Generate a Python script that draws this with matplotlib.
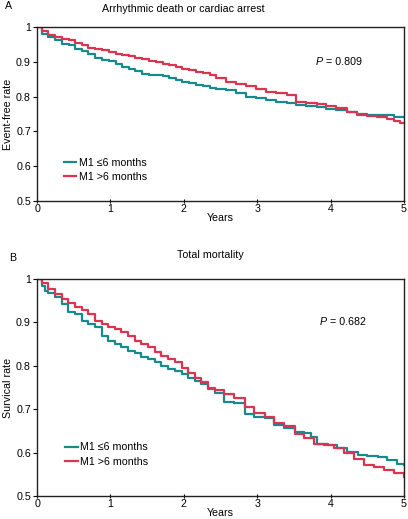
import matplotlib
matplotlib.use("Agg")
import matplotlib.pyplot as plt

plt.rcParams['font.family'] = ['Liberation Sans', 'DejaVu Sans']

# ---------------------------------------------------------
# Kaplan-Meier curves (years, rate)
# ---------------------------------------------------------
TEAL = '#178a8c'
RED = '#dc3350'

# Panel A: arrhythmic death or cardiac arrest
a_le6_t = [0, 0.064, 0.155, 0.25, 0.34, 0.43, 0.52, 0.61, 0.70, 0.79, 0.89, 0.98, 1.07, 1.16, 1.25,
           1.34, 1.43, 1.53, 1.71, 1.80, 1.89, 1.98, 2.07, 2.16, 2.26, 2.35, 2.44, 2.58, 2.71, 2.85,
           2.99, 3.12, 3.26, 3.40, 3.53, 3.67, 3.81, 3.94, 4.08, 4.22, 4.36, 4.49, 4.86, 5.0]
a_le6_s = [1.0, 0.981, 0.971, 0.962, 0.952, 0.947, 0.938, 0.930, 0.923, 0.911, 0.904, 0.901, 0.895,
           0.885, 0.880, 0.873, 0.866, 0.861, 0.858, 0.852, 0.847, 0.842, 0.839, 0.834, 0.830, 0.825,
           0.823, 0.819, 0.811, 0.800, 0.795, 0.790, 0.785, 0.781, 0.776, 0.773, 0.769, 0.765, 0.761,
           0.757, 0.750, 0.747, 0.742, 0.740]
a_gt6_t = [0, 0.064, 0.155, 0.25, 0.34, 0.43, 0.52, 0.61, 0.70, 0.79, 0.89, 0.98, 1.07, 1.16, 1.25,
           1.34, 1.43, 1.53, 1.62, 1.71, 1.80, 1.89, 1.98, 2.07, 2.16, 2.26, 2.35, 2.44, 2.58, 2.71,
           2.85, 2.99, 3.12, 3.26, 3.40, 3.53, 3.67, 3.81, 3.94, 4.08, 4.22, 4.36, 4.49, 4.63, 4.77,
           4.86, 4.95, 5.0]
a_gt6_s = [1.0, 0.988, 0.978, 0.971, 0.966, 0.962, 0.955, 0.947, 0.941, 0.938, 0.933, 0.928, 0.923,
           0.920, 0.916, 0.911, 0.907, 0.901, 0.899, 0.895, 0.892, 0.885, 0.880, 0.875, 0.871, 0.868,
           0.861, 0.852, 0.843, 0.836, 0.831, 0.821, 0.814, 0.809, 0.804, 0.785, 0.782, 0.779, 0.773,
           0.766, 0.757, 0.747, 0.744, 0.740, 0.737, 0.730, 0.725, 0.724]

# Panel B: total mortality
b_le6_t = [0, 0.063, 0.109, 0.154, 0.245, 0.335, 0.426, 0.516, 0.607, 0.697, 0.788, 0.879, 0.969,
           1.06, 1.15, 1.24, 1.33, 1.42, 1.51, 1.60, 1.69, 1.78, 1.88, 1.97, 2.06, 2.15, 2.24, 2.33,
           2.42, 2.55, 2.69, 2.83, 2.96, 3.10, 3.23, 3.37, 3.51, 3.64, 3.73, 3.82, 3.96, 4.09, 4.23,
           4.37, 4.50, 4.64, 4.77, 4.91, 5.0]
b_le6_s = [1.0, 0.985, 0.973, 0.967, 0.958, 0.942, 0.923, 0.919, 0.904, 0.896, 0.889, 0.869, 0.858,
           0.850, 0.843, 0.835, 0.829, 0.821, 0.816, 0.808, 0.800, 0.793, 0.789, 0.781, 0.773, 0.766,
           0.758, 0.747, 0.737, 0.717, 0.714, 0.690, 0.683, 0.679, 0.664, 0.656, 0.648, 0.646, 0.636,
           0.621, 0.617, 0.610, 0.602, 0.594, 0.593, 0.589, 0.583, 0.574, 0.572]
b_gt6_t = [0, 0.063, 0.154, 0.245, 0.335, 0.426, 0.516, 0.607, 0.697, 0.788, 0.879, 0.969, 1.06,
           1.15, 1.24, 1.33, 1.42, 1.51, 1.60, 1.69, 1.78, 1.88, 1.97, 2.06, 2.15, 2.24, 2.33, 2.42,
           2.55, 2.69, 2.83, 2.96, 3.10, 3.23, 3.37, 3.51, 3.64, 3.78, 3.91, 4.05, 4.18, 4.32, 4.46,
           4.59, 4.73, 4.86, 5.0]
b_gt6_s = [1.0, 0.992, 0.977, 0.965, 0.954, 0.944, 0.935, 0.929, 0.919, 0.904, 0.896, 0.890, 0.885,
           0.877, 0.869, 0.858, 0.850, 0.843, 0.831, 0.823, 0.816, 0.808, 0.796, 0.783, 0.773, 0.762,
           0.750, 0.744, 0.736, 0.727, 0.706, 0.692, 0.683, 0.669, 0.661, 0.644, 0.633, 0.621, 0.617,
           0.610, 0.598, 0.585, 0.571, 0.567, 0.561, 0.552, 0.544]

series_labels = ['M1 \u22646 months', 'M1 >6 months']
x_ticks = [0, 1, 2, 3, 4, 5]
y_ticks = [0.5, 0.6, 0.7, 0.8, 0.9, 1.0]
y_ticklabels = ['0.5', '0.6', '0.7', '0.8', '0.9', '1']

FS = 7.7

panels = [
    dict(rect=[0.091, 0.6127, 0.899, 0.3353], letter='A', title='Arrhythmic death or cardiac arrest',
         ylabel='Event-free rate', p='0.809', curves=(a_le6_t, a_le6_s, a_gt6_t, a_gt6_s),
         ptxt=(3.8, 0.9), leg=(0.072, 0.11), letter_xy=(0.012, 0.988), title_xy=(0.45, 0.982)),
    dict(rect=[0.091, 0.0443, 0.899, 0.418], letter='B', title='Total mortality',
         ylabel='Survical rate', p='0.682', curves=(b_le6_t, b_le6_s, b_gt6_t, b_gt6_s),
         ptxt=(3.85, 0.9), leg=(0.077, 0.135), letter_xy=(0.022, 0.502), title_xy=(0.515, 0.509)),
]

fig = plt.figure(figsize=(4.08, 5.19), dpi=100)

for pn in panels:
    ax = fig.add_axes(pn['rect'])
    t1, s1, t2, s2 = pn['curves']
    ax.plot(t1, s1, drawstyle='steps-post', color=TEAL, lw=1.6, label=series_labels[0])
    ax.plot(t2, s2, drawstyle='steps-post', color=RED, lw=1.6, label=series_labels[1])

    ax.set_xlim(0, 5)
    ax.set_ylim(0.5, 1.0)
    ax.set_xticks(x_ticks)
    ax.set_yticks(y_ticks)
    ax.set_yticklabels(y_ticklabels)
    ax.tick_params(axis='both', labelsize=FS, length=3, width=0.8, pad=1.5)
    ax.tick_params(axis='x', direction='inout', pad=1)
    for sp in ax.spines.values():
        sp.set_linewidth(1.0)
        sp.set_color('#222222')

    ax.set_xlabel('Years', fontsize=FS, labelpad=-1)
    ax.set_ylabel(pn['ylabel'], fontsize=FS, labelpad=2)

    ax.text(pn['ptxt'][0], pn['ptxt'][1], 'P', style='italic', fontsize=FS, va='center')
    ax.text(pn['ptxt'][0] + 0.1, pn['ptxt'][1], ' = ' + pn['p'], fontsize=FS, va='center')

    ax.legend(loc='lower left', bbox_to_anchor=pn['leg'], frameon=False, fontsize=FS,
              handlelength=1.2, handletextpad=0.2, borderpad=0, labelspacing=0.4,
              borderaxespad=0)

    fig.text(pn['letter_xy'][0], pn['letter_xy'][1], pn['letter'], fontsize=FS, va='center')
    fig.text(pn['title_xy'][0], pn['title_xy'][1], pn['title'], fontsize=FS,
             ha='center', va='center')

fig.savefig('out.png', dpi=100)
